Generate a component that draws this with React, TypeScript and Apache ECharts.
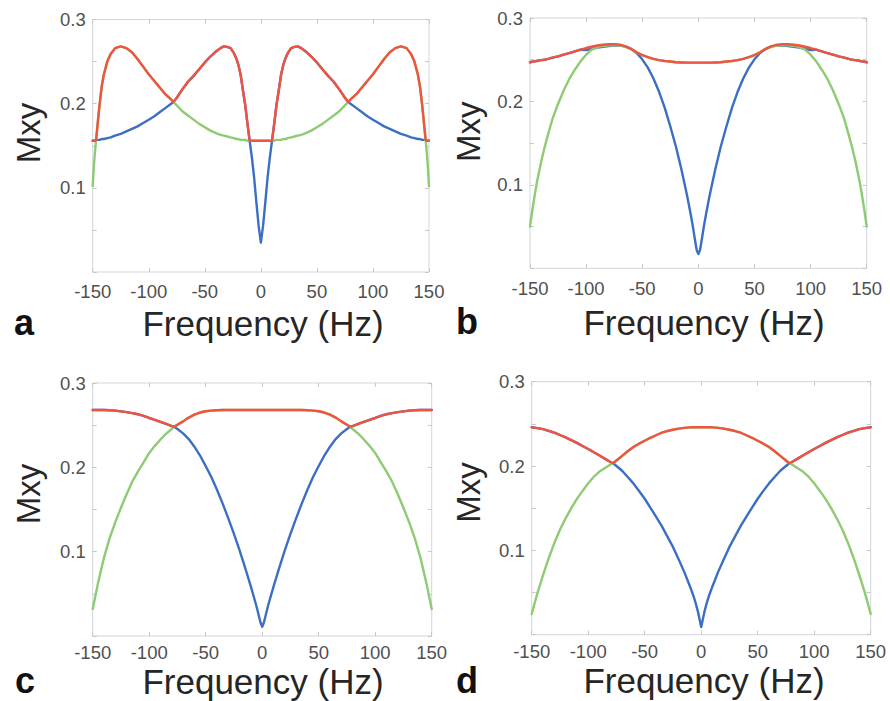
import React, { useEffect, useRef } from "react";
import * as echarts from "echarts";

// ---------- axis / text content ----------
const X_MIN = -150;
const X_MAX = 150;
const X_STEP = 50;
const Y_MIN = 0;
const Y_MAX = 0.3;
const Y_STEP = 0.05;
const yLabelValues = [0.1, 0.2, 0.3];
const yTickLabels = ["0.1", "0.2", "0.3"];
const xAxisTitle = "Frequency (Hz)";
const yAxisTitle = "Mxy";
const panelLetters = ["a", "b", "c", "d"];

// ---------- panel a ----------
const freqA = [-150,-149,-148,-147,-146,-145,-144,-142,-140,-137,-134,-130,-125,-120,-115,-110,-105,-100,-95,-90,-85,-80,-78,-75,-70,-65,-60,-55,-50,-45,-40,-36,-33,-30,-27,-24,-22,-20,-18,-16,-14,-12,-10,-8,-6,-4,-2,0,2,4,6,8,10,12,14,16,18,20,22,24,27,30,33,36,40,45,50,55,60,65,70,75,78,80,85,90,95,100,105,110,115,120,125,130,134,137,140,142,144,145,146,147,148,149,150];
const blueA = [0.156,0.156,0.156,0.157,0.157,0.157,0.157,0.158,0.158,0.159,0.160,0.162,0.164,0.167,0.170,0.173,0.177,0.181,0.185,0.190,0.195,0.200,0.202,0.207,0.217,0.226,0.233,0.241,0.249,0.256,0.262,0.266,0.268,0.2675,0.266,0.260,0.254,0.246,0.234,0.216,0.199,0.177,0.156,0.136,0.112,0.083,0.055,0.035,
  0.055,0.083,0.112,0.136,0.156,0.177,0.199,0.216,0.234,0.246,0.254,0.260,0.266,0.2675,0.268,0.266,0.262,0.256,0.249,0.241,0.233,0.226,0.217,0.207,0.202,0.200,0.195,0.190,0.185,0.181,0.177,0.173,0.170,0.167,0.164,0.162,0.160,0.159,0.158,0.158,0.157,0.157,0.157,0.157,0.156,0.156,0.156];
const greenA = [0.102,0.125,0.142,0.157,0.170,0.184,0.197,0.220,0.235,0.250,0.259,0.266,0.268,0.266,0.261,0.253,0.244,0.235,0.227,0.219,0.211,0.205,0.202,0.198,0.191,0.186,0.181,0.176,0.172,0.168,0.165,0.163,0.162,0.161,0.160,0.159,0.158,0.158,0.157,0.157,0.157,0.156,0.156,0.156,0.156,0.156,0.156,0.156,
  0.156,0.156,0.156,0.156,0.156,0.156,0.157,0.157,0.157,0.158,0.158,0.159,0.160,0.161,0.162,0.163,0.165,0.168,0.172,0.176,0.181,0.186,0.191,0.198,0.202,0.205,0.211,0.219,0.227,0.235,0.244,0.253,0.261,0.266,0.268,0.266,0.259,0.250,0.235,0.220,0.197,0.184,0.170,0.157,0.142,0.125,0.102];
const redA = [0.156,0.156,0.156,0.157,0.170,0.184,0.197,0.220,0.235,0.250,0.259,0.266,0.268,0.266,0.261,0.253,0.244,0.235,0.227,0.219,0.211,0.205,0.202,0.207,0.217,0.226,0.233,0.241,0.249,0.256,0.262,0.266,0.268,0.2675,0.266,0.260,0.254,0.246,0.234,0.216,0.199,0.177,0.156,0.156,0.156,0.156,0.156,0.156,
  0.156,0.156,0.156,0.156,0.156,0.177,0.199,0.216,0.234,0.246,0.254,0.260,0.266,0.2675,0.268,0.266,0.262,0.256,0.249,0.241,0.233,0.226,0.217,0.207,0.202,0.205,0.211,0.219,0.227,0.235,0.244,0.253,0.261,0.266,0.268,0.266,0.259,0.250,0.235,0.220,0.197,0.184,0.170,0.157,0.156,0.156,0.156];

// ---------- panel b ----------
const freqB = [-150,-148,-146,-144,-142,-140,-137,-134,-130,-125,-120,-115,-110,-105,-100,-95,-90,-85,-80,-75,-70,-65,-60,-55,-50,-45,-40,-35,-30,-25,-20,-15,-10,-7,-5,-3,-1.5,0,1.5,3,5,7,10,15,20,25,30,35,40,45,50,55,60,65,70,75,80,85,90,95,100,105,110,115,120,125,130,134,137,140,142,144,146,148,150];
const blueB = [0.247,0.2475,0.248,0.2485,0.249,0.2495,0.250,0.251,0.2525,0.254,0.256,0.258,0.260,0.262,0.2615,0.263,0.2645,0.2655,0.2665,0.267,0.2672,0.266,0.263,0.258,0.2505,0.2405,0.2275,0.2115,0.1925,0.170,0.146,0.118,0.087,0.066,0.051,0.034,0.022,0.017,
  0.022,0.034,0.051,0.066,0.087,0.118,0.146,0.170,0.1925,0.2115,0.2275,0.2405,0.2505,0.258,0.263,0.266,0.2672,0.267,0.2665,0.2655,0.2645,0.263,0.2615,0.262,0.260,0.258,0.256,0.254,0.2525,0.251,0.250,0.2495,0.249,0.2485,0.248,0.2475,0.247];
const greenB = [0.050,0.069,0.086,0.102,0.115,0.128,0.145,0.160,0.179,0.197,0.213,0.227,0.238,0.248,0.256,0.262,0.265,0.2665,0.2672,0.2675,0.267,0.2655,0.263,0.259,0.2555,0.253,0.251,0.2495,0.2485,0.2478,0.247,0.2467,0.2465,0.2465,0.2465,0.2465,0.2465,0.2465,
  0.2465,0.2465,0.2465,0.2465,0.2465,0.2467,0.247,0.2478,0.2485,0.2495,0.251,0.253,0.2555,0.259,0.263,0.2655,0.267,0.2675,0.2672,0.2665,0.265,0.262,0.256,0.248,0.238,0.227,0.213,0.197,0.179,0.160,0.145,0.128,0.115,0.102,0.086,0.069,0.050];
const redB = [0.247,0.2475,0.248,0.2485,0.249,0.2495,0.250,0.251,0.2525,0.254,0.256,0.258,0.260,0.262,0.264,0.2655,0.267,0.268,0.2685,0.2685,0.268,0.266,0.263,0.259,0.2555,0.253,0.251,0.2495,0.2485,0.2478,0.247,0.2467,0.2465,0.2465,0.2465,0.2465,0.2465,0.2465,
  0.2465,0.2465,0.2465,0.2465,0.2465,0.2467,0.247,0.2478,0.2485,0.2495,0.251,0.253,0.2555,0.259,0.263,0.266,0.268,0.2685,0.2685,0.268,0.267,0.2655,0.264,0.262,0.260,0.258,0.256,0.254,0.2525,0.251,0.250,0.2495,0.249,0.2485,0.248,0.2475,0.247];

// ---------- panels c and d (shared frequency grid) ----------
const freqCD = [-150,-145,-140,-135,-130,-125,-120,-115,-110,-105,-100,-95,-90,-85,-80,-78,-75,-70,-65,-60,-55,-50,-45,-40,-35,-30,-25,-20,-15,-10,-7,-5,-3,-1.5,0,1.5,3,5,7,10,15,20,25,30,35,40,45,50,55,60,65,70,75,78,80,85,90,95,100,105,110,115,120,125,130,135,140,145,150];
const blueC = [0.268,0.268,0.268,0.2677,0.2672,0.2663,0.2655,0.2643,0.263,0.261,0.2585,0.2562,0.254,0.2515,0.249,0.248,0.2455,0.2402,0.2335,0.2245,0.214,0.2015,0.1885,0.1735,0.157,0.1395,0.121,0.1015,0.0805,0.0585,0.0445,0.035,0.024,0.016,0.011,
  0.016,0.024,0.035,0.0445,0.0585,0.0805,0.1015,0.121,0.1395,0.157,0.1735,0.1885,0.2015,0.214,0.2245,0.2335,0.2402,0.2455,0.248,0.249,0.2515,0.254,0.2562,0.2585,0.261,0.263,0.2643,0.2655,0.2663,0.2672,0.2677,0.268,0.268,0.268];
const greenC = [0.032,0.0645,0.093,0.116,0.135,0.152,0.168,0.183,0.195,0.206,0.217,0.2255,0.233,0.240,0.2455,0.248,0.2505,0.2545,0.259,0.2625,0.265,0.2665,0.2673,0.2677,0.268,0.268,0.268,0.268,0.268,0.268,0.268,0.268,0.268,0.268,0.268,
  0.268,0.268,0.268,0.268,0.268,0.268,0.268,0.268,0.268,0.268,0.2677,0.2673,0.2665,0.265,0.2625,0.259,0.2545,0.2505,0.248,0.2455,0.240,0.233,0.2255,0.217,0.206,0.195,0.183,0.168,0.152,0.135,0.116,0.093,0.0645,0.032];
const redC = [0.268,0.268,0.268,0.2677,0.2672,0.2663,0.2655,0.2643,0.263,0.261,0.2585,0.2562,0.254,0.2515,0.249,0.248,0.2505,0.2545,0.259,0.2625,0.265,0.2665,0.2673,0.2677,0.268,0.268,0.268,0.268,0.268,0.268,0.268,0.268,0.268,0.268,0.268,
  0.268,0.268,0.268,0.268,0.268,0.268,0.268,0.268,0.268,0.268,0.2677,0.2673,0.2665,0.265,0.2625,0.259,0.2545,0.2505,0.248,0.249,0.2515,0.254,0.2562,0.2585,0.261,0.263,0.2643,0.2655,0.2663,0.2672,0.2677,0.268,0.268,0.268];
const blueD = [0.246,0.245,0.2437,0.2418,0.2395,0.2368,0.234,0.2307,0.2275,0.2237,0.2202,0.2164,0.2125,0.2085,0.2045,0.2033,0.2000,0.1944,0.1870,0.1794,0.1705,0.1612,0.1507,0.1400,0.1290,0.1166,0.1041,0.0895,0.0745,0.0575,0.0465,0.0380,0.0280,0.0185,0.009,
  0.0185,0.0280,0.0380,0.0465,0.0575,0.0745,0.0895,0.1041,0.1166,0.1290,0.1400,0.1507,0.1612,0.1705,0.1794,0.1870,0.1944,0.2000,0.2033,0.2045,0.2085,0.2125,0.2164,0.2202,0.2237,0.2275,0.2307,0.234,0.2368,0.2395,0.2418,0.2437,0.245,0.246];
const greenD = [0.0246,0.049,0.0705,0.0905,0.1085,0.1245,0.138,0.150,0.161,0.1705,0.1795,0.1873,0.1935,0.1977,0.2021,0.2033,0.2065,0.212,0.2175,0.2225,0.2265,0.230,0.2335,0.2365,0.2395,0.2415,0.243,0.2443,0.2452,0.2458,0.246,0.246,0.246,0.246,0.246,
  0.246,0.246,0.246,0.246,0.2458,0.2452,0.2443,0.243,0.2415,0.2395,0.2365,0.2335,0.230,0.2265,0.2225,0.2175,0.212,0.2065,0.2033,0.2021,0.1977,0.1935,0.1873,0.1795,0.1705,0.161,0.150,0.138,0.1245,0.1085,0.0905,0.0705,0.049,0.0246];
const redD = [0.246,0.245,0.2437,0.2418,0.2395,0.2368,0.234,0.2307,0.2275,0.2237,0.2202,0.2164,0.2125,0.2085,0.2045,0.2033,0.2065,0.212,0.2175,0.2225,0.2265,0.230,0.2335,0.2365,0.2395,0.2415,0.243,0.2443,0.2452,0.2458,0.246,0.246,0.246,0.246,0.246,
  0.246,0.246,0.246,0.246,0.2458,0.2452,0.2443,0.243,0.2415,0.2395,0.2365,0.2335,0.230,0.2265,0.2225,0.2175,0.212,0.2065,0.2033,0.2045,0.2085,0.2125,0.2164,0.2202,0.2237,0.2275,0.2307,0.234,0.2368,0.2395,0.2418,0.2437,0.245,0.246];

const panelData = [
  { freq: freqA, blue: blueA, green: greenA, red: redA },
  { freq: freqB, blue: blueB, green: greenB, red: redB },
  { freq: freqCD, blue: blueC, green: greenC, red: redC },
  { freq: freqCD, blue: blueD, green: greenD, red: redD },
];

// ---------- layout & styles ----------
const COLORS = { blue: "#3c6fc3", green: "#8fca74", red: "#f0533f" };
const BOX = "#d2d5dd";
const TICK = "#c4c7cf";
const LABEL = "#505050";
const TITLE = "#262626";
const FONT = "'Liberation Sans', Arial, Helvetica, sans-serif";

const layout = [
  { left: 92.7, top: 19.5, width: 336.3, height: 252.5, xMargin: 10, mxy: [28.2, 133], freq: [263, 323.4], letter: [14, 322.8] },
  { left: 530, top: 18, width: 336.7, height: 250.3, xMargin: 10.5, mxy: [468.9, 131.7], freq: [704, 322.4], letter: [456, 321.3] },
  { left: 92.7, top: 383, width: 339, height: 253, xMargin: 6.5, mxy: [28.2, 494], freq: [263, 681], letter: [15, 680.5] },
  { left: 531.7, top: 381.7, width: 339, height: 253, xMargin: 7, mxy: [468.9, 492.5], freq: [704, 680.5], letter: [456, 680.5] },
];

function yLabel(v: number): string {
  for (let i = 0; i < yLabelValues.length; i++) {
    if (Math.abs(v - yLabelValues[i]) < 1e-6) return yTickLabels[i];
  }
  return "";
}

function buildOption() {
  const grid: any[] = [];
  const xAxis: any[] = [];
  const yAxis: any[] = [];
  const series: any[] = [];
  const graphic: any[] = [];

  layout.forEach((L, p) => {
    grid.push({
      left: L.left,
      top: L.top,
      width: L.width,
      height: L.height,
      show: true,
      borderColor: BOX,
      borderWidth: 1,
      backgroundColor: "transparent",
      containLabel: false,
    });
    const tick = { show: true, inside: true, length: 4, lineStyle: { color: TICK, width: 1 } };
    const line = { show: false, onZero: false };
    xAxis.push({
      type: "value",
      gridIndex: p,
      min: X_MIN,
      max: X_MAX,
      interval: X_STEP,
      position: "bottom",
      axisLine: line,
      axisTick: tick,
      splitLine: { show: false },
      axisLabel: {
        show: true,
        fontSize: 18.5,
        fontFamily: FONT,
        color: LABEL,
        margin: L.xMargin,
        showMinLabel: true,
        showMaxLabel: true,
      },
    });
    xAxis.push({
      type: "value",
      gridIndex: p,
      min: X_MIN,
      max: X_MAX,
      interval: X_STEP,
      position: "top",
      axisLine: line,
      axisTick: tick,
      splitLine: { show: false },
      axisLabel: { show: false },
    });
    yAxis.push({
      type: "value",
      gridIndex: p,
      min: Y_MIN,
      max: Y_MAX,
      interval: Y_STEP,
      position: "left",
      axisLine: line,
      axisTick: tick,
      splitLine: { show: false },
      axisLabel: {
        show: true,
        fontSize: 18.5,
        fontFamily: FONT,
        color: LABEL,
        margin: 7,
        formatter: (v: number) => yLabel(v),
        showMinLabel: true,
        showMaxLabel: true,
      },
    });
    yAxis.push({
      type: "value",
      gridIndex: p,
      min: Y_MIN,
      max: Y_MAX,
      interval: Y_STEP,
      position: "right",
      axisLine: line,
      axisTick: tick,
      splitLine: { show: false },
      axisLabel: { show: false },
    });

    const D = panelData[p];
    (["blue", "green", "red"] as const).forEach((key, k) => {
      series.push({
        type: "line",
        name: key,
        xAxisIndex: 2 * p,
        yAxisIndex: 2 * p,
        data: D.freq.map((f, i) => [f, D[key][i]]),
        showSymbol: false,
        symbol: "none",
        smooth: false,
        z: 2 + k,
        lineStyle: { color: COLORS[key], width: 2.4, cap: "round", join: "round" },
        itemStyle: { color: COLORS[key] },
        silent: true,
      });
    });

    graphic.push({
      type: "text",
      x: L.mxy[0],
      y: L.mxy[1],
      rotation: Math.PI / 2,
      style: {
        text: yAxisTitle,
        fontSize: 33,
        fontFamily: FONT,
        fill: TITLE,
        align: "center",
        verticalAlign: "middle",
        textAlign: "center",
        textVerticalAlign: "middle",
      },
    });
    graphic.push({
      type: "text",
      x: L.freq[0],
      y: L.freq[1],
      style: {
        text: xAxisTitle,
        fontSize: 35,
        fontFamily: FONT,
        fill: TITLE,
        align: "center",
        verticalAlign: "middle",
        textAlign: "center",
        textVerticalAlign: "middle",
      },
    });
    graphic.push({
      type: "text",
      x: L.letter[0],
      y: L.letter[1],
      style: {
        text: panelLetters[p],
        fontSize: 36,
        fontWeight: "bold",
        fontFamily: FONT,
        fill: "#111111",
        align: "left",
        verticalAlign: "middle",
        textAlign: "left",
        textVerticalAlign: "middle",
      },
    });
  });

  return {
    animation: false,
    backgroundColor: "#ffffff",
    grid,
    xAxis,
    yAxis,
    series,
    graphic: { elements: graphic },
  };
}

export default function App() {
  const ref = useRef<HTMLDivElement | null>(null);
  useEffect(() => {
    if (!ref.current) return;
    const chart = echarts.init(ref.current, undefined, { renderer: "svg" });
    chart.setOption(buildOption() as any);
    return () => chart.dispose();
  }, []);
  return (
    <div
      ref={ref}
      style={{ position: "absolute", left: 0, top: 0, width: 890, height: 701, background: "#fff" }}
    />
  );
}
